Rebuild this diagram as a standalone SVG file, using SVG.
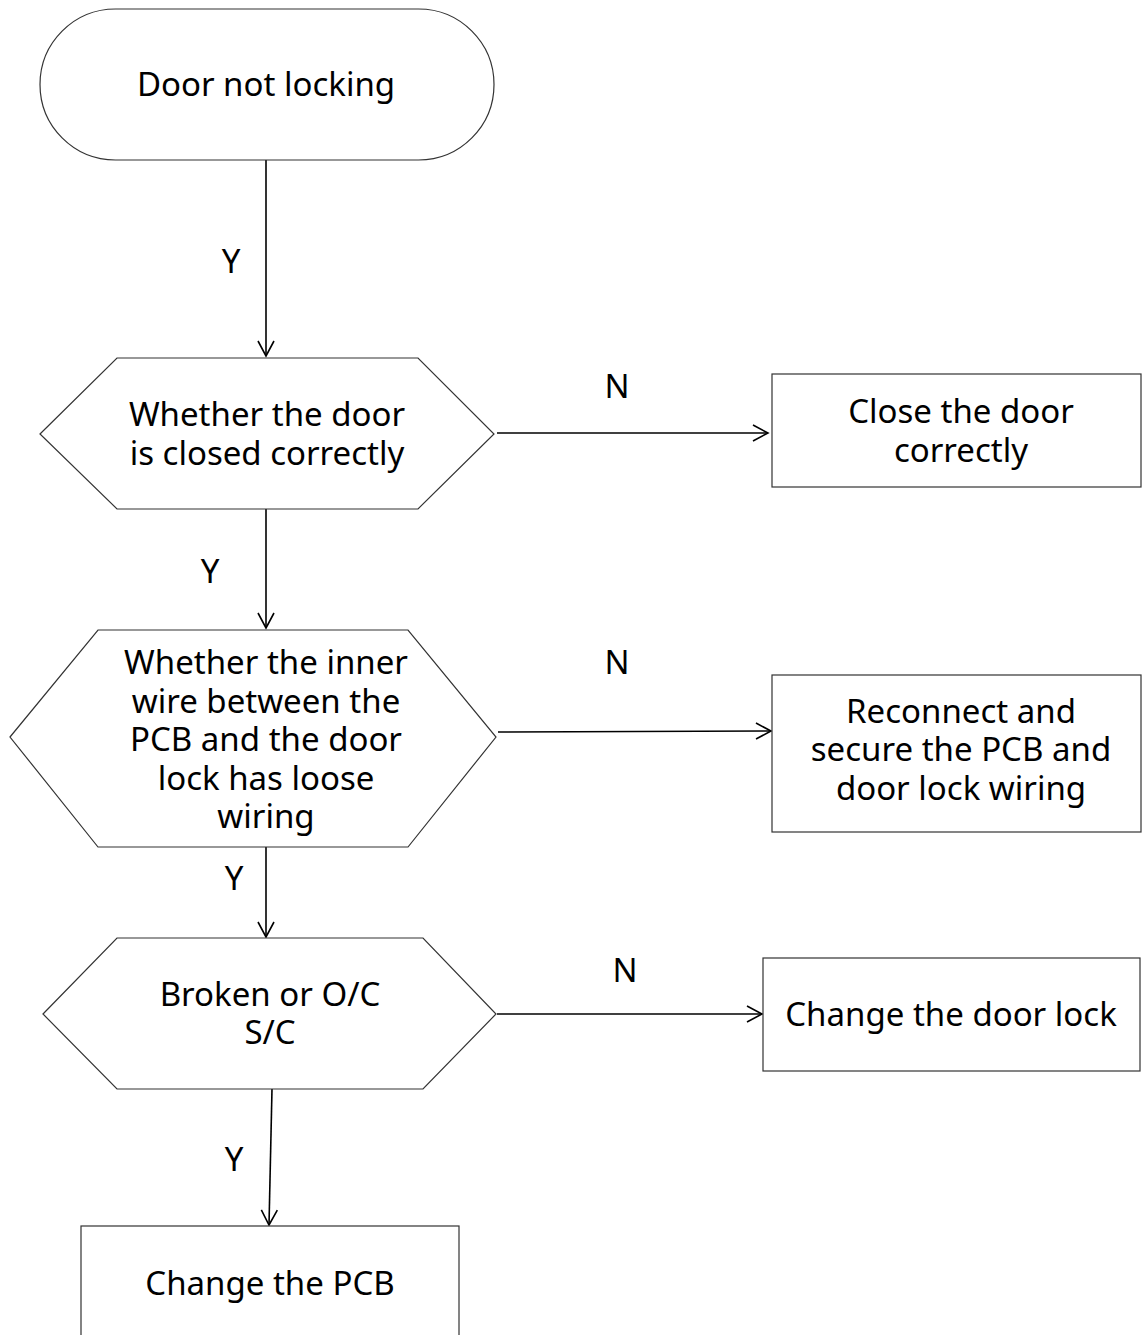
<svg xmlns="http://www.w3.org/2000/svg" width="1142" height="1335" viewBox="0 0 1142 1335">
<style>
.shape{fill:#fff;stroke:#333;stroke-width:1.2}
.t{font-family:"Noto Sans","Open Sans",sans-serif;font-size:33px;fill:#000;text-anchor:middle}
.conn{stroke:#000;stroke-width:1.6;fill:none}
</style>
<defs>
<marker id="arr" markerUnits="userSpaceOnUse" markerWidth="20" markerHeight="20" viewBox="0 0 20 20" refX="16" refY="10" orient="auto">
<path d="M1,2 L16,10 L1,18" fill="none" stroke="#000" stroke-width="1.6"/>
</marker>
</defs>
<rect width="1142" height="1335" fill="#fff"/>
<g id="connectors">
<line class="conn" x1="266" y1="160" x2="266" y2="356" marker-end="url(#arr)"/>
<line class="conn" x1="497" y1="433" x2="768" y2="433" marker-end="url(#arr)"/>
<line class="conn" x1="266" y1="509" x2="266" y2="628" marker-end="url(#arr)"/>
<line class="conn" x1="498" y1="732" x2="771" y2="731" marker-end="url(#arr)"/>
<line class="conn" x1="266" y1="847" x2="266" y2="937" marker-end="url(#arr)"/>
<line class="conn" x1="497" y1="1014" x2="762" y2="1014" marker-end="url(#arr)"/>
<line class="conn" x1="272" y1="1089" x2="269" y2="1225" marker-end="url(#arr)"/>
<text class="t" x="231" y="273">Y</text>
<text class="t" x="617" y="398">N</text>
<text class="t" x="210" y="583">Y</text>
<text class="t" x="617" y="674">N</text>
<text class="t" x="234" y="890">Y</text>
<text class="t" x="625" y="982">N</text>
<text class="t" x="234" y="1171">Y</text>
</g>
<g id="start">
<rect class="shape" x="40" y="9" width="454" height="151" rx="75.5" ry="75.5"/>
<text class="t" x="266" y="96">Door not locking</text>
</g>
<g id="decision1">
<polygon class="shape" points="40,434 117,358 418,358 494,434 418,509 117,509"/>
<text class="t" x="267" y="426">Whether the door</text>
<text class="t" x="267" y="465">is closed correctly</text>
</g>
<g id="action1">
<rect class="shape" x="772" y="374" width="369" height="113"/>
<text class="t" x="961" y="423">Close the door</text>
<text class="t" x="961" y="462">correctly</text>
</g>
<g id="decision2">
<polygon class="shape" points="10,737 98,630 408,630 496,737 408,847 98,847"/>
<text class="t" x="266" y="674">Whether the inner</text>
<text class="t" x="266" y="713">wire between the</text>
<text class="t" x="266" y="751">PCB and the door</text>
<text class="t" x="266" y="790">lock has loose</text>
<text class="t" x="266" y="828">wiring</text>
</g>
<g id="action2">
<rect class="shape" x="772" y="675" width="369" height="157"/>
<text class="t" x="961" y="723">Reconnect and</text>
<text class="t" x="961" y="761">secure the PCB and</text>
<text class="t" x="961" y="800">door lock wiring</text>
</g>
<g id="decision3">
<polygon class="shape" points="43,1014 117,938 423,938 496,1014 423,1089 117,1089"/>
<text class="t" x="270" y="1006">Broken or O/C</text>
<text class="t" x="270" y="1044">S/C</text>
</g>
<g id="action3">
<rect class="shape" x="763" y="958" width="377" height="113"/>
<text class="t" x="951" y="1026">Change the door lock</text>
</g>
<g id="action4">
<rect class="shape" x="81" y="1226" width="378" height="120"/>
<text class="t" x="270" y="1295">Change the PCB</text>
</g>
</svg>
